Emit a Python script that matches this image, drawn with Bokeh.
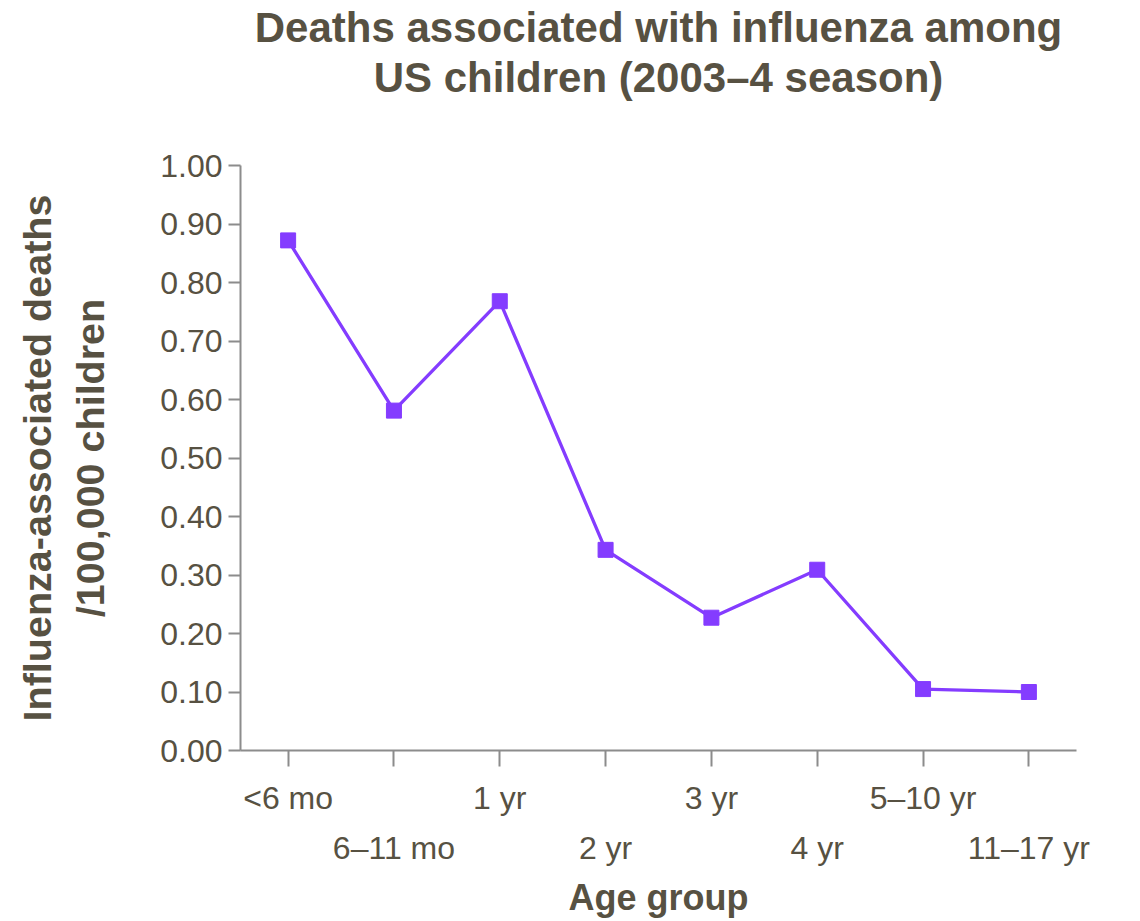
from bokeh.plotting import figure
from bokeh.models import Range1d, FixedTicker, LinearAxis, PrintfTickFormatter, Title
from bokeh.embed import file_html
from bokeh.resources import INLINE

# ---- data ----
categories = ["<6 mo", "6–11 mo", "1 yr", "2 yr", "3 yr", "4 yr", "5–10 yr", "11–17 yr"]
deaths_per_100k = [0.872, 0.581, 0.768, 0.343, 0.227, 0.309, 0.105, 0.100]
y_ticks = [0.0, 0.1, 0.2, 0.3, 0.4, 0.5, 0.6, 0.7, 0.8, 0.9, 1.0]
title_line1 = "Deaths associated with influenza among"
title_line2 = "US children (2003–4 season)"
y_label = "Influenza-associated deaths\n/100,000 children"
x_label = "Age group"

TEXT = "#575142"
AXIS = "#8c8c8c"
LINE = "#843cff"
FONT = "Liberation Sans"

x_pos = list(range(len(categories)))
top_row = [i for i in x_pos if i % 2 == 0]
bottom_row = [i for i in x_pos if i % 2 == 1]

p = figure(width=1124, height=920, output_backend="svg", toolbar_location=None,
           x_range=Range1d(-0.45, len(categories) - 0.55), y_range=Range1d(0, 1),
           x_axis_type=None, min_border_left=240, min_border_right=48,
           min_border_top=165, min_border_bottom=168)
p.outline_line_color = None
p.xgrid.grid_line_color = None
p.ygrid.grid_line_color = None
p.background_fill_color = "white"
p.border_fill_color = "white"

# title: main title outermost; added panels stack from the frame outward (spacer, then line 2)
p.title.text = title_line1
p.title.align = "center"
p.title.text_font = FONT
p.title.text_font_size = "42px"
p.title.text_font_style = "bold"
p.title.text_color = TEXT
p.title.standoff = 0
spacer = Title(text=" ", align="center", text_font=FONT, text_font_size="10px",
               text_color=TEXT, standoff=51)
p.add_layout(spacer, "above")
t2 = Title(text=title_line2, align="center", text_font=FONT, text_font_size="42px",
           text_font_style="bold", text_color=TEXT, standoff=2)
p.add_layout(t2, "above")

# y axis
ya = p.yaxis[0]
ya.ticker = FixedTicker(ticks=y_ticks)
ya.formatter = PrintfTickFormatter(format="%.2f")
ya.axis_line_color = AXIS
ya.axis_line_width = 2
ya.major_tick_line_color = AXIS
ya.major_tick_line_width = 2
ya.major_tick_out = 12
ya.major_tick_in = 0
ya.minor_tick_line_color = None
ya.major_label_standoff = 6
ya.major_label_text_font = FONT
ya.major_label_text_font_size = "32px"
ya.major_label_text_color = TEXT
ya.axis_label = y_label
ya.axis_label_text_font = FONT
ya.axis_label_text_font_size = "39.5px"
ya.axis_label_text_font_style = "bold"
ya.axis_label_text_color = TEXT
ya.axis_label_standoff = 45

# x axis: ticks + first row of labels
xa1 = LinearAxis(ticker=FixedTicker(ticks=x_pos),
                 major_label_overrides={i: (categories[i] if i in top_row else "") for i in x_pos})
xa1.axis_line_color = AXIS
xa1.axis_line_width = 2
xa1.major_tick_line_color = AXIS
xa1.major_tick_line_width = 2
xa1.major_tick_out = 16
xa1.major_tick_in = 0
xa1.minor_tick_line_color = None
xa1.major_label_standoff = 13
xa1.major_label_text_font = FONT
xa1.major_label_text_font_size = "32px"
xa1.major_label_text_color = TEXT
p.add_layout(xa1, "below")

# second row of labels + axis title
xa2 = LinearAxis(ticker=FixedTicker(ticks=bottom_row),
                 major_label_overrides={i: categories[i] for i in bottom_row})
xa2.axis_line_color = None
xa2.major_tick_line_color = None
xa2.major_tick_out = 0
xa2.major_tick_in = 0
xa2.minor_tick_line_color = None
xa2.major_label_standoff = 11
xa2.major_label_text_font = FONT
xa2.major_label_text_font_size = "32px"
xa2.major_label_text_color = TEXT
xa2.axis_label = x_label
xa2.axis_label_text_font = FONT
xa2.axis_label_text_font_size = "36px"
xa2.axis_label_text_font_style = "bold"
xa2.axis_label_text_color = TEXT
xa2.axis_label_standoff = 8
p.add_layout(xa2, "below")

p.line(x_pos, deaths_per_100k, line_color=LINE, line_width=3.3)
p.scatter(x_pos, deaths_per_100k, marker="square", size=15, fill_color=LINE, line_color=LINE)

open("out.html", "w").write(file_html(p, INLINE))
